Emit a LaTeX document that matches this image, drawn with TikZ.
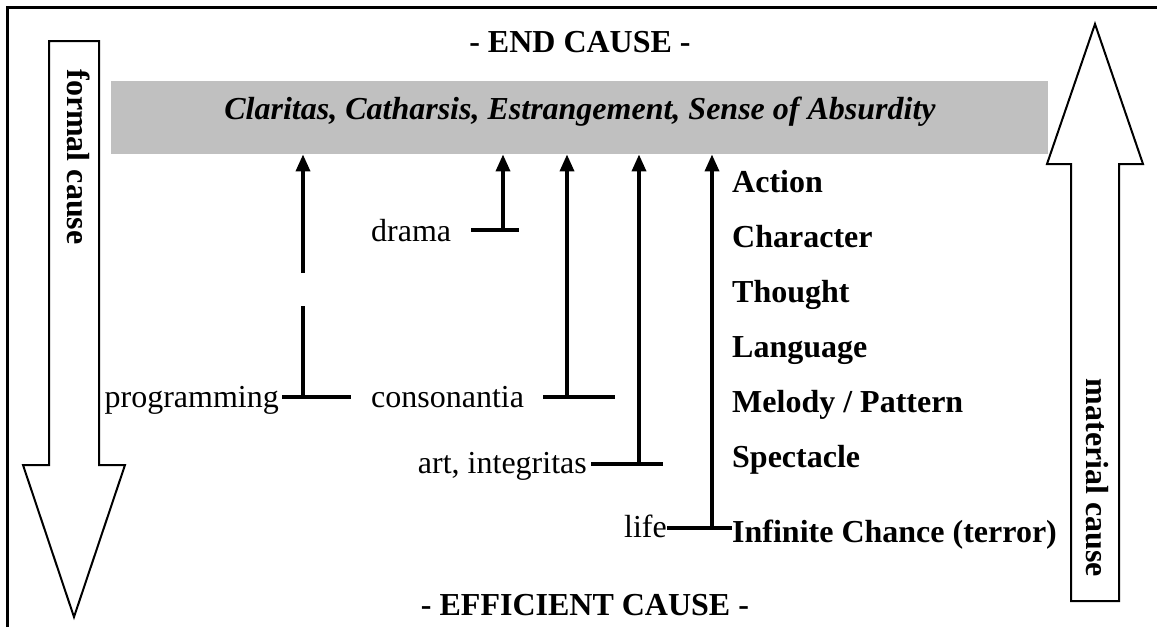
\documentclass[tikz,border=0pt]{standalone}
\usepackage{fontspec}
\setmainfont{Liberation Serif}
\usetikzlibrary{arrows.meta}
\definecolor{boxgray}{RGB}{192,192,192}
\tikzset{
  lbl/.style={inner sep=0pt, font=\fontsize{32}{38}\selectfont},
  blbl/.style={inner sep=0pt, font=\fontsize{32}{38}\selectfont\bfseries},
  conn/.style={line width=3.5pt},
  upar/.style={line width=3.5pt, -{Triangle[length=17pt,width=14pt]}},
  bigarrow/.style={draw, line width=2pt, fill=white, line join=miter},
  frameline/.style={line width=3pt}
}
\begin{document}
\begin{tikzpicture}[x=1pt,y=-1pt]
\useasboundingbox (0,0) rectangle (1157,627);
% frame
\draw[frameline] (7,627) -- (7,7) -- (1157,7);
% formal cause arrow (down)
\draw[bigarrow] (49,41) -- (99,41) -- (99,465) -- (125,465) -- (74,617) -- (23,465) -- (49,465) -- cycle;
\node[blbl, rotate=-90] (formal) at (79,157) {formal cause};
% material cause arrow (up)
\draw[bigarrow] (1071,601) -- (1119,601) -- (1119,164) -- (1143,164) -- (1095,24) -- (1047,164) -- (1071,164) -- cycle;
\node[blbl, rotate=-90] (material) at (1097,478) {material cause};
% end cause
\node[blbl] (endt) at (580,42) {- END CAUSE -};
\node[fill=boxgray, minimum width=937pt, minimum height=73pt, inner sep=0pt, anchor=north west] (endbox) at (111,81) {};
\node[blbl, anchor=base] (clar) at (580,119) {\itshape Claritas, Catharsis, Estrangement, Sense of Absurdity};
% efficient cause
\node[blbl, anchor=base] (eff) at (585,615) {- EFFICIENT CAUSE -};
% left labels
\node[lbl, anchor=base east] (prog) at (279,407) {programming};
\node[lbl, anchor=base west] (drama) at (371,241) {drama};
\node[lbl, anchor=base west] (cons) at (371,407) {consonantia};
\node[lbl, anchor=base east] (art) at (587,473) {art, integritas};
\node[lbl, anchor=base east] (life) at (667,537) {life};
% right column
\node[blbl, anchor=base west] (action) at (732,192) {Action};
\node[blbl, anchor=base west] (character) at (732,247) {Character};
\node[blbl, anchor=base west] (thought) at (732,302) {Thought};
\node[blbl, anchor=base west] (language) at (732,357) {Language};
\node[blbl, anchor=base west] (melody) at (732,412) {Melody / Pattern};
\node[blbl, anchor=base west] (spect) at (732,467) {Spectacle};
\node[blbl, anchor=base west] (chance) at (732,542) {Infinite Chance (terror)};
% junction coordinates
\coordinate (p1) at (282,397);
\coordinate (p2) at (351,397);
\coordinate (pj) at (303,397);
\coordinate (pgb) at (303,306);
\coordinate (pgt) at (303,273);
\coordinate (d1) at (471,230);
\coordinate (d2) at (519,230);
\coordinate (dj) at (503,230);
\coordinate (c1) at (543,397);
\coordinate (c2) at (615,397);
\coordinate (cj) at (567,397);
\coordinate (a1) at (591,464);
\coordinate (a2) at (663,464);
\coordinate (aj) at (639,464);
\coordinate (lj) at (712,528);
% connectors
\draw[conn] (p1) -- (p2);
\draw[conn] (pj) -- (pgb);
\draw[upar] (pgt) -- (pgt |- endbox.south);
\draw[conn] (d1) -- (d2);
\draw[upar] (dj) -- (dj |- endbox.south);
\draw[conn] (c1) -- (c2);
\draw[upar] (cj) -- (cj |- endbox.south);
\draw[conn] (a1) -- (a2);
\draw[upar] (aj) -- (aj |- endbox.south);
\draw[conn] (life.east |- lj) -- (chance.west |- lj);
\draw[upar] (lj) -- (lj |- endbox.south);
\end{tikzpicture}
\end{document}
